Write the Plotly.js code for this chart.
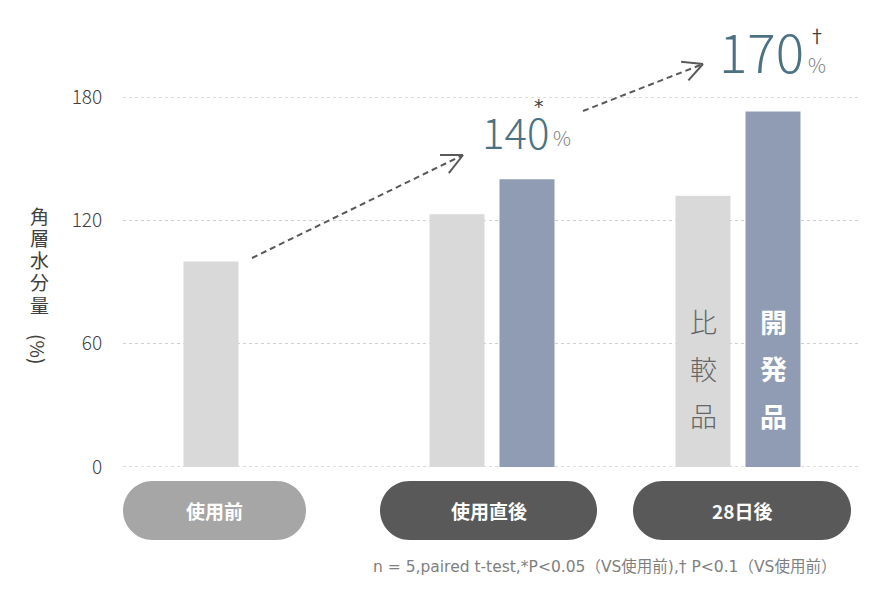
<!DOCTYPE html>
<html>
<head>
<meta charset="utf-8">
<script src="https://cdn.plot.ly/plotly-3.0.1.min.js"></script>
<style>html,body{margin:0;padding:0;background:#fff;}#chart{width:892px;height:590px;}</style>
</head>
<body>
<div id="chart"></div>
<script>
// ---- data ----
const categories = ['使用前', '使用直後', '28日後'];
const comparisonName = '比較品';
const developmentName = '開発品';
const comparisonValues = [100, 123, 132];
const developmentValues = [null, 140, 173];
const yTicks = [0, 60, 120, 180];
const yTickLabels = ['0', '60', '120', '180'];
const yTitleChars = ['角', '層', '水', '分', '量'];
const pctLabels = ['140', '170'];
const pctMarks = ['*', '†'];
const footnote = 'n = 5,paired t-test,*P<0.05（VS使用前),† P<0.1（VS使用前）';

// ---- geometry helpers (pixel -> paper) ----
const W = 892, H = 590;
const M = {l: 123, r: 31, t: 97, b: 123};
const PW = W - M.l - M.r, PH = H - M.t - M.b;
const px = x => (x - M.l) / PW;
const py = y => (H - M.b - y) / PH;

const FONT = '"Noto Sans CJK JP", "Noto Sans", sans-serif';
const arrowColor = '#595959';
const gridStyle = {color: '#cfcfcf', width: 1.5, dash: 'dot'};

const shapes = [];
const annotations = [];

// grid lines at the range edges (Plotly hides them on the frame)
[yTicks[0], yTicks[yTicks.length - 1]].forEach(v => {
  shapes.push({type: 'line', xref: 'paper', yref: 'y', x0: 0, x1: 1, y0: v, y1: v,
    line: gridStyle, layer: 'below'});
});

// pills
function pill(x0, x1, y0, y1, color) {
  const r = (y1 - y0) / 2, k = 0.5523 * r;
  const p = (x, y) => px(x) + ',' + py(y);
  const path = 'M' + p(x0 + r, y0) + ' L' + p(x1 - r, y0) +
    ' C' + p(x1 - r + k, y0) + ' ' + p(x1, y0 + r - k) + ' ' + p(x1, y0 + r) +
    ' C' + p(x1, y0 + r + k) + ' ' + p(x1 - r + k, y1) + ' ' + p(x1 - r, y1) +
    ' L' + p(x0 + r, y1) +
    ' C' + p(x0 + r - k, y1) + ' ' + p(x0, y0 + r + k) + ' ' + p(x0, y0 + r) +
    ' C' + p(x0, y0 + r - k) + ' ' + p(x0 + r - k, y0) + ' ' + p(x0 + r, y0) + ' Z';
  shapes.push({type: 'path', xref: 'paper', yref: 'paper', path: path,
    fillcolor: color, line: {width: 0}, layer: 'above'});
}
const pillBoxes = [[123, 306, '#a6a6a6'], [380, 597, '#595959'], [633, 851, '#595959']];
pillBoxes.forEach((b, i) => {
  pill(b[0], b[1], 481, 540, b[2]);
  annotations.push({xref: 'paper', yref: 'paper', x: px((b[0] + b[1]) / 2), y: py(510),
    xanchor: 'center', yanchor: 'middle', showarrow: false, text: '<b>' + categories[i] + '</b>',
    font: {family: FONT, size: 19, color: '#ffffff'}});
});

// dashed arrows with open heads
function arrow(x0, y0, x1, y1, len, ang) {
  shapes.push({type: 'line', xref: 'paper', yref: 'paper', x0: px(x0), y0: py(y0), x1: px(x1), y1: py(y1),
    line: {color: arrowColor, width: 2, dash: '6px,4px'}, layer: 'above'});
  const back = Math.atan2(y0 - y1, x0 - x1);
  [ang, -ang].forEach(a => {
    const t = back + a * Math.PI / 180;
    shapes.push({type: 'line', xref: 'paper', yref: 'paper', x0: px(x1), y0: py(y1),
      x1: px(x1 + len * Math.cos(t)), y1: py(y1 + len * Math.sin(t)),
      line: {color: arrowColor, width: 2}, layer: 'above'});
  });
}
arrow(252, 258, 463, 155, 23, 26);
arrow(583, 111, 703, 64, 22, 27);

// percentage labels
const teal = '#4b7283';
annotations.push({xref: 'paper', yref: 'paper', x: px(551), y: py(131), xanchor: 'right', yanchor: 'middle',
  showarrow: false, text: pctLabels[0], font: {family: FONT, size: 42, color: teal, weight: 300}});
annotations.push({xref: 'paper', yref: 'paper', x: px(551), y: py(137), xanchor: 'left', yanchor: 'middle',
  showarrow: false, text: '%', font: {family: FONT, size: 20, color: '#7f7f7f', weight: 300}});
annotations.push({xref: 'paper', yref: 'paper', x: px(539), y: py(106), xanchor: 'center', yanchor: 'middle',
  showarrow: false, text: pctMarks[0], font: {family: '"DejaVu Sans", sans-serif', size: 19, color: '#404040'}});
annotations.push({xref: 'paper', yref: 'paper', x: px(806), y: py(50), xanchor: 'right', yanchor: 'middle',
  showarrow: false, text: pctLabels[1], font: {family: FONT, size: 53, color: teal, weight: 300}});
annotations.push({xref: 'paper', yref: 'paper', x: px(806), y: py(64), xanchor: 'left', yanchor: 'middle',
  showarrow: false, text: '%', font: {family: FONT, size: 20, color: '#7f7f7f', weight: 300}});
annotations.push({xref: 'paper', yref: 'paper', x: px(817), y: py(35), xanchor: 'center', yanchor: 'middle',
  showarrow: false, text: pctMarks[1], font: {family: FONT, size: 18, color: '#404040'}});

// in-bar vertical labels
[comparisonName, developmentName].forEach((name, j) => {
  const cx = j === 0 ? 703 : 773;
  name.split('').forEach((ch, k) => {
    annotations.push({xref: 'paper', yref: 'paper', x: px(cx), y: py(321 + k * 47), xanchor: 'center', yanchor: 'middle',
      showarrow: false, text: j === 0 ? ch : '<b>' + ch + '</b>',
      font: {family: FONT, size: 27, color: j === 0 ? '#666666' : '#ffffff', weight: j === 0 ? 300 : 700}});
  });
});

// y title (vertical)
yTitleChars.forEach((ch, k) => {
  annotations.push({xref: 'paper', yref: 'paper', x: px(39), y: py(215 + k * 22.3), xanchor: 'center', yanchor: 'middle',
    showarrow: false, text: ch, font: {family: FONT, size: 19, color: '#404040'}});
});
annotations.push({xref: 'paper', yref: 'paper', x: px(39), y: py(349), xanchor: 'center', yanchor: 'middle',
  showarrow: false, text: '(%)', textangle: 90, font: {family: FONT, size: 19, color: '#404040'}});

// footnote
annotations.push({xref: 'paper', yref: 'paper', x: px(371), y: py(567), xanchor: 'left', yanchor: 'middle',
  showarrow: false, text: footnote, font: {family: '"DejaVu Sans", "Noto Sans CJK JP", sans-serif', size: 15.5, color: '#7f7f7f'}});

const traces = [
  {type: 'bar', name: comparisonName, x: categories, y: comparisonValues,
   marker: {color: '#d9d9d9', line: {width: 0}}, hoverinfo: 'skip'},
  {type: 'bar', name: developmentName, x: categories, y: developmentValues,
   marker: {color: '#8f9cb3', line: {width: 0}}, hoverinfo: 'skip'}
];

const layout = {
  width: W, height: H,
  margin: M,
  paper_bgcolor: '#ffffff', plot_bgcolor: '#ffffff',
  showlegend: false,
  barmode: 'group',
  bargap: 0.431,
  bargroupgap: 0.214,
  xaxis: {type: 'category', range: [-0.5, 2.5], showticklabels: false, showgrid: false,
    zeroline: false, showline: false, ticks: '', fixedrange: true},
  yaxis: {range: [0, 180], tickvals: yTicks, ticktext: yTickLabels, showgrid: true,
    gridcolor: gridStyle.color, gridwidth: gridStyle.width, griddash: 'dot', zeroline: false, showline: false,
    ticks: 'outside', ticklen: 16, tickcolor: 'rgba(0,0,0,0)',
    tickfont: {family: FONT, size: 19, color: '#404040', weight: 300}, fixedrange: true},
  font: {family: FONT},
  shapes: shapes,
  annotations: annotations
};

Plotly.newPlot('chart', traces, layout, {displayModeBar: false, staticPlot: true});
</script>
</body>
</html>
